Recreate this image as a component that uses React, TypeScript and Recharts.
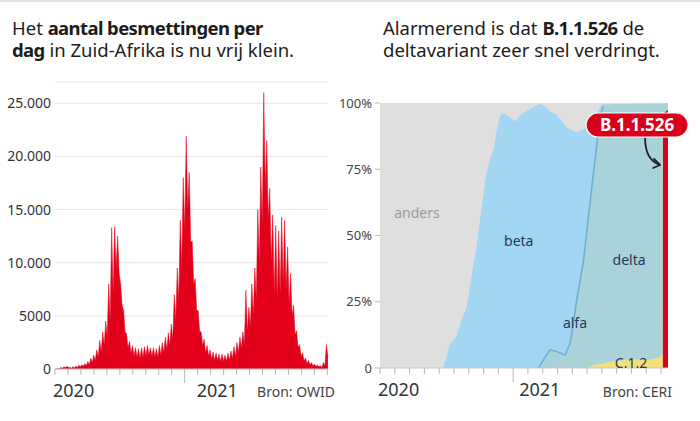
import React from 'react';
import { AreaChart, ComposedChart, Area, Line, XAxis, YAxis, CartesianGrid, ReferenceDot } from 'recharts';

// ---------- Left chart: daily infections South Africa (weekly high / low of daily values), weeks from 1 Mar 2020 ----------
const caseWeekHigh = [
  0, 50, 150, 200, 250, 150, 200, 250, 350, 400,
  500, 700, 1000, 1300, 1800, 2700, 3500, 4500, 8000, 13300,
  13400, 12500, 8000, 5500, 3300, 2600, 2200, 2000, 1900, 2000,
  2100, 2200, 2000, 2000, 1900, 2200, 2500, 3000, 3400, 4200,
  7000, 9500, 14000, 18000, 21900, 18500, 12000, 8500, 5500, 3500,
  2800, 2200, 1800, 1600, 1500, 1400, 1400, 1300, 1500, 1700,
  2100, 2500, 3000, 3500, 7400, 5800, 8000, 9500, 15000, 19000,
  26000, 21500, 17000, 14500, 13500, 13000, 14300, 14000, 11500, 9000,
  6000, 3600, 2300, 1500, 1000, 800, 600, 450, 350, 300,
  600, 2300,
];
const caseWeekLow = [
  0, 20, 80, 120, 150, 80, 100, 150, 200, 250,
  300, 400, 600, 800, 1100, 1600, 2200, 3000, 4500, 7000,
  9500, 9000, 6000, 3500, 2000, 1500, 1200, 1100, 1000, 1100,
  1200, 1300, 1200, 1100, 1100, 1300, 1500, 1800, 2200, 2800,
  4500, 6500, 9500, 13000, 15000, 12000, 8000, 5500, 3500, 2200,
  1500, 1200, 900, 800, 800, 700, 700, 700, 800, 1000,
  1200, 1500, 2000, 2300, 3500, 4000, 5000, 6500, 10000, 13500,
  17000, 14000, 10000, 7000, 6500, 7000, 8000, 7500, 6000, 5000,
  3200, 2000, 1200, 800, 500, 400, 300, 250, 200, 150,
  250, 1200,
];
const casesYTicks = [0, 5000, 10000, 15000, 20000, 25000];
const casesMonthTicks = [2, 3, 4, 5, 6, 7, 8, 9, 10, 11, 12, 13, 14, 15, 16, 17, 18, 19, 20, 21, 22, 23];

// ---------- Right chart: variant shares (%), time in months since Jan 2020 ----------
const variantT = [3, 7.28, 7.73, 8.18, 8.5, 8.86, 9.2, 9.54, 9.9, 10.21, 10.45, 10.66, 10.9, 11.1, 11.3, 11.57, 12.13, 12.5, 12.92, 13.4, 13.7, 13.82, 14.1, 14.27, 14.49, 14.95, 15.51, 15.85, 16.07, 16.3, 16.75, 16.97, 17.09, 17.42, 17.65, 17.9, 18.1, 18.78, 19.9, 21.03, 21.82, 22.04, 22.11, 22.13, 22.47];
const betaPct = [0, 0, 9, 12, 18, 23, 35, 46, 62, 74, 79, 82, 90, 95, 96, 95.5, 93, 95.5, 97, 98.5, 99.5, 98.5, 95.5, 93, 90.2, 89.3, 86.6, 80.7, 72.7, 63.4, 50, 40, 34.5, 19, 12, 3.5, 0.5, 0, 0, 0, 0, 0, 0, 0, 0];
const alfaPct: (number | null)[] = [null, null, null, null, null, null, null, null, null, null, null, null, null, null, null, null, null, null, null, null, 0, 1, 3.5, 5, 6.8, 6.2, 4.9, 7, 6, 5, 4, 3.5, 3, 2, 1.5, 1, 0.5, null, null, null, null, null, null, null, null];
const deltaPct = [0, 0, 0, 0, 0, 0, 0, 0, 0, 0, 0, 0, 0, 0, 0, 0, 0, 0, 0, 0, 0, 0, 0, 0, 0, 0, 0, 2.3, 10.8, 20.6, 36, 47.5, 53.5, 70, 81.2, 92.5, 96.7, 97.1, 96.4, 96.8, 96, 94.9, 94.5, 3.8, 2.5];
const c12Pct = [0, 0, 0, 0, 0, 0, 0, 0, 0, 0, 0, 0, 0, 0, 0, 0, 0, 0, 0, 0, 0, 0, 0, 0, 0, 0, 0, 0, 0, 0, 0, 0, 0.5, 1, 1.3, 1.5, 1.8, 2.5, 3.3, 3, 3.8, 4.9, 5.3, 0, 0];
const omicronPct = [0, 0, 0, 0, 0, 0, 0, 0, 0, 0, 0, 0, 0, 0, 0, 0, 0, 0, 0, 0, 0, 0, 0, 0, 0, 0, 0, 0, 0, 0, 0, 0, 0, 0, 0, 0, 0, 0, 0, 0, 0, 0, 0, 96, 97.5];
const variantYTicks = [0, 25, 50, 75, 100];
const variantMonthTicks = [3, 4, 5, 6, 7, 8, 9, 10, 11, 12, 13, 14, 15, 16, 17, 18, 19, 20, 21, 22];

const variantLabels = [
  { text: 'anders', t: 5.5, p: 58.5, color: '#9b9b9b' },
  { text: 'beta', t: 12.38, p: 47.9, color: '#1d3b5a' },
  { text: 'delta', t: 19.84, p: 40.8, color: '#1d3b5a' },
  { text: 'alfa', t: 16.18, p: 17, color: '#1d3b5a' },
  { text: 'C.1.2', t: 19.97, p: 1.9, color: '#1d3b5a' },
];
const omicronCallout = { text: 'B.1.1.526', t: 20.38, p: 91.7 };

// ---------- tables ----------
const WEEK = 7 / 30.44;
const casesData = caseWeekHigh.flatMap((h, w) => [
  { t: 2 + w * WEEK, v: h },
  { t: 2 + (w + 0.5) * WEEK, v: caseWeekLow[w] },
]);

const variantData = variantT.map((t, i) => {
  const a = alfaPct[i];
  return {
    t,
    omi: omicronPct[i],
    c12: c12Pct[i],
    delta: deltaPct[i],
    alfa: a ?? 0,
    beta: betaPct[i],
    alfaEdge: a === null ? null : omicronPct[i] + c12Pct[i] + deltaPct[i] + a,
  };
});

const FONT = '"Noto Sans", "Open Sans", sans-serif';

const fmtCases = (v: number) => (v >= 10000 ? String(v).replace(/\B(?=(\d{3})+(?!\d))/g, '.') : String(v));
const fmtPct = (v: number) => (v === 0 ? '0' : `${v}%`);

function makeMonthTick(years: Record<number, { text: string; dx: number }>) {
  return (props: any) => {
    const { x, y, payload } = props;
    const v = payload.value;
    const yr = years[v];
    const long = v === 12;
    return (
      <g>
        <line x1={x} x2={x} y1={y} y2={y + (long ? 14 : 6)} stroke="#b8b8b8" strokeWidth={1} />
        {yr && (
          <text x={x + yr.dx} y={y + 28} fontSize={18} fill="#333" fontFamily={FONT} textAnchor="start">
            {yr.text}
          </text>
        )}
      </g>
    );
  };
}

const leftTick = makeMonthTick({ 2: { text: '2020', dx: -2 }, 12: { text: '2021', dx: 12 } });
const rightTick = makeMonthTick({ 3: { text: '2020', dx: -2 }, 12: { text: '2021', dx: 6 } });

const titleLine: React.CSSProperties = {
  position: 'absolute',
  fontSize: 18.5,
  lineHeight: '20px',
  height: 20,
  color: '#1c1c1c',
  fontFamily: FONT,
  whiteSpace: 'nowrap',
};
const boldStyle: React.CSSProperties = { fontWeight: 700, letterSpacing: '-0.6px' };

const sourceStyle: React.CSSProperties = {
  position: 'absolute',
  top: 385,
  fontSize: 14,
  lineHeight: '14px',
  color: '#444',
  fontFamily: FONT,
  whiteSpace: 'nowrap',
};

export default function App() {
  return (
    <div style={{ position: 'absolute', left: 0, top: 0, width: 700, height: 421, background: '#fff', overflow: 'hidden', fontFamily: FONT }}>
      <div style={{ position: 'absolute', left: 0, top: 0, width: 700, height: 2, background: '#e4e4e4' }} />
      <div style={{ ...titleLine, left: 12, top: 18 }}>
        Het <span style={boldStyle}>aantal besmettingen per</span>
      </div>
      <div style={{ ...titleLine, left: 12, top: 40 }}>
        <span style={boldStyle}>dag</span> in Zuid-Afrika is nu vrij klein.
      </div>
      <div style={{ ...titleLine, left: 383, top: 18 }}>
        Alarmerend is dat <span style={boldStyle}>B.1.1.526</span> de
      </div>
      <div style={{ ...titleLine, left: 383, top: 40 }}>deltavariant zeer snel verdringt.</div>

      <div style={{ position: 'absolute', left: 0, top: 0 }}>
        <AreaChart width={340} height={421} data={casesData} margin={{ top: 82, right: 12, bottom: 22, left: 0 }}>
          <CartesianGrid vertical={false} stroke="#e6e6e6" />
          <XAxis
            dataKey="t"
            type="number"
            domain={[2, 23.05]}
            ticks={casesMonthTicks}
            interval={0}
            height={30}
            axisLine={{ stroke: '#c8c8c8' }}
            tickLine={false}
            tickSize={0}
            tickMargin={0}
            tick={leftTick}
          />
          <YAxis
            type="number"
            domain={[0, 27000]}
            ticks={casesYTicks}
            width={55}
            axisLine={false}
            tickLine={false}
            tickSize={0}
            tickMargin={4}
            tickFormatter={fmtCases}
            tick={{ fontSize: 14, fill: '#333', fontFamily: FONT }}
          />
          <Area type="linear" dataKey="v" stroke="#e2001a" strokeWidth={0.5} fill="#e2001a" fillOpacity={1} isAnimationActive={false} dot={false} activeDot={false} />
        </AreaChart>
      </div>
      <div style={{ ...sourceStyle, right: 365 }}>Bron: OWID</div>

      <div style={{ position: 'absolute', left: 330, top: 0 }}>
        <ComposedChart width={370} height={421} data={variantData} margin={{ top: 103, right: 32, bottom: 23, left: 0 }}>
          <CartesianGrid horizontal={false} vertical={false} fill="#dfdfdf" stroke="none" />
          <XAxis
            dataKey="t"
            type="number"
            domain={[3, 22.47]}
            ticks={variantMonthTicks}
            interval={0}
            height={30}
            axisLine={{ stroke: '#c8c8c8' }}
            tickLine={false}
            tickSize={0}
            tickMargin={0}
            tick={rightTick}
          />
          <YAxis
            type="number"
            domain={[0, 100]}
            ticks={variantYTicks}
            width={50}
            axisLine={false}
            tickLine={{ stroke: '#bbb' }}
            tickSize={5}
            tickMargin={3}
            tickFormatter={fmtPct}
            tick={{ fontSize: 13, fill: '#444', fontFamily: FONT }}
          />
          <Area type="linear" dataKey="omi" stackId="v" stroke="none" fill="#dc0018" fillOpacity={1} isAnimationActive={false} dot={false} activeDot={false} />
          <Area type="linear" dataKey="c12" stackId="v" stroke="none" fill="#f4e07a" fillOpacity={1} isAnimationActive={false} dot={false} activeDot={false} />
          <Area type="linear" dataKey="delta" stackId="v" stroke="none" fill="#a9d2d9" fillOpacity={1} isAnimationActive={false} dot={false} activeDot={false} />
          <Area type="linear" dataKey="alfa" stackId="v" stroke="none" fill="#a9d2d9" fillOpacity={1} isAnimationActive={false} dot={false} activeDot={false} />
          <Area type="linear" dataKey="beta" stackId="v" stroke="none" fill="#a2d6f2" fillOpacity={1} isAnimationActive={false} dot={false} activeDot={false} />
          <Line type="linear" dataKey="alfaEdge" stroke="#6fb0d9" strokeWidth={1.6} dot={false} activeDot={false} connectNulls={false} isAnimationActive={false} />
          {variantLabels.map((l) => (
            <ReferenceDot
              key={l.text}
              x={l.t}
              y={l.p}
              ifOverflow="visible"
              shape={(p: any) => (
                <text x={p.cx} y={p.cy} dy="0.35em" textAnchor="middle" fontSize={14} fill={l.color} fontFamily={FONT}>
                  {l.text}
                </text>
              )}
            />
          ))}
          <ReferenceDot
            x={omicronCallout.t}
            y={omicronCallout.p}
            ifOverflow="visible"
            shape={(p: any) => (
              <g>
                <path
                  d={`M${p.cx + 8},${p.cy + 13} C${p.cx + 8},${p.cy + 30} ${p.cx + 14},${p.cy + 37} ${p.cx + 23},${p.cy + 40}`}
                  fill="none"
                  stroke="#222"
                  strokeWidth={1.8}
                />
                <polyline
                  points={`${p.cx + 17},${p.cy + 34} ${p.cx + 23},${p.cy + 40} ${p.cx + 16},${p.cy + 43}`}
                  fill="none"
                  stroke="#222"
                  strokeWidth={1.8}
                  strokeLinejoin="round"
                  strokeLinecap="round"
                />
                <rect x={p.cx - 51} y={p.cy - 12} width={102} height={24} rx={12} ry={12} fill="#d9001b" stroke="#fff" strokeWidth={1.2} />
                <text x={p.cx} y={p.cy} dy="0.36em" textAnchor="middle" fontSize={17} fontWeight={700} fill="#fff" fontFamily={FONT}>
                  {omicronCallout.text}
                </text>
              </g>
            )}
          />
        </ComposedChart>
      </div>
      <div style={{ ...sourceStyle, right: 28 }}>Bron: CERI</div>
    </div>
  );
}
